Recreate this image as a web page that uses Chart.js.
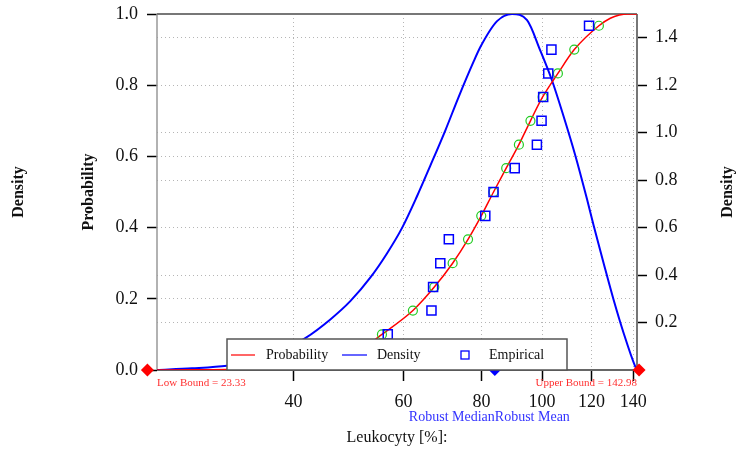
<!DOCTYPE html>
<html>
<head>
<meta charset="utf-8">
<script src="https://cdn.jsdelivr.net/npm/chart.js@4"></script>
<style>
  html, body { margin: 0; padding: 0; background: #fff; }
</style>
</head>
<body>
<canvas id="chart" width="750" height="457"></canvas>
<script>
// axis ticks
const xTicks = [40, 60, 80, 100, 120, 140];
const probTicks = [0, 0.2, 0.4, 0.6, 0.8, 1.0];
const densTicks = [0.2, 0.4, 0.6, 0.8, 1.0, 1.2, 1.4];
const xRange = [24.17, 141.9];

// fitted probability (cdf) curve
const probX = [24.17, 28, 32, 36, 40, 44, 48, 52, 55.4, 62.1, 67.2, 71.9, 76.1, 79.9, 83.6, 87.6, 91.8, 95.8, 100.2, 106.0, 112.6, 123.3, 128.6, 133, 137, 141.9];
const probY = [0, 0.0005, 0.002, 0.006, 0.013, 0.025, 0.042, 0.066, 0.1, 0.167, 0.233, 0.3, 0.367, 0.433, 0.5, 0.567, 0.633, 0.7, 0.767, 0.833, 0.9, 0.967, 0.988, 0.997, 1.0, 1.0];

// density curve (right axis)
const densX = [24.17, 27.5, 31.3, 36, 41.7, 45.8, 49.3, 53.1, 56.4, 59.7, 63.0, 66.2, 70.0, 73.5, 77.7, 79.6, 84.7, 89.5, 94.6, 99.3, 103.7, 108.3, 113.0, 118.0, 120.9, 125.5, 130.2, 135.1, 141.0, 141.9];
const densY = [0, 0.007, 0.018, 0.045, 0.133, 0.213, 0.29, 0.39, 0.49, 0.60, 0.73, 0.86, 1.01, 1.15, 1.30, 1.36, 1.47, 1.5, 1.474, 1.347, 1.221, 1.067, 0.905, 0.72, 0.61, 0.449, 0.295, 0.155, 0.014, 0];

// plotting positions, theoretical and empirical quantiles
const pLevels = [0.033, 0.1, 0.167, 0.233, 0.3, 0.367, 0.433, 0.5, 0.567, 0.633, 0.7, 0.767, 0.833, 0.9, 0.967];
const theoX = [45.9, 55.4, 62.1, 67.2, 71.9, 76.1, 79.9, 83.6, 87.6, 91.8, 95.8, 100.2, 106.0, 112.6, 123.3];
const empX = [50.5, 56.6, 66.5, 66.9, 68.7, 70.9, 81.1, 83.6, 90.4, 98.1, 99.8, 100.4, 102.3, 103.5, 118.9];

const bounds = [23.33, 142.98];
const robustMedian = 84;
const legendLabels = ['Probability', 'Density', 'Empirical'];
const xTitle = 'Leukocyty [%]:';

const serif = "'Liberation Serif', 'Times New Roman', serif";
Chart.defaults.font.family = serif;
Chart.defaults.color = '#111';

const gridBase = { color: '#b5b5b5', lineWidth: 1, tickColor: '#000', tickWidth: 1.5, tickBorderDash: [] };
const borderBase = { display: false, dash: [1, 3] };

function line(ctx, x1, y1, x2, y2, color, w) {
  ctx.strokeStyle = color;
  ctx.lineWidth = w;
  ctx.beginPath();
  ctx.moveTo(x1, y1);
  ctx.lineTo(x2, y2);
  ctx.stroke();
}

// keep the plot box where the original has it
function noPad(s) {
  s.paddingTop = 0;
  s.paddingBottom = 0;
  s.paddingLeft = 0;
  s.paddingRight = 0;
}

const decor = {
  id: 'decor',
  beforeDatasetsDraw(chart) {
    const { ctx, chartArea: a } = chart;
    ctx.save();
    line(ctx, a.left, a.top, a.left, a.bottom, '#999', 1.5);
    line(ctx, a.left, a.top, a.right, a.top, '#777', 2);
    line(ctx, a.right, a.top, a.right, a.bottom, '#777', 2);
    line(ctx, a.left, a.bottom, a.right, a.bottom, '#666', 2);
    ctx.restore();
  },
  afterDatasetsDraw(chart) {
    const { ctx } = chart;
    ctx.save();
    // legend box
    ctx.fillStyle = '#fff';
    ctx.fillRect(227, 339, 340, 31);
    ctx.strokeStyle = '#555';
    ctx.lineWidth = 1.5;
    ctx.strokeRect(227, 339, 340, 31);
    const ly = 355;
    line(ctx, 231, ly, 255, ly, 'rgba(255,0,0,0.6)', 2);
    line(ctx, 342, ly, 367, ly, 'rgba(0,0,255,0.6)', 2);
    ctx.strokeStyle = '#0000ff';
    ctx.lineWidth = 1.3;
    ctx.strokeRect(461, 351, 8, 8);
    ctx.fillStyle = '#111';
    ctx.font = '14px ' + serif;
    ctx.textBaseline = 'middle';
    ctx.textAlign = 'left';
    ctx.fillText(legendLabels[0], 266, ly);
    ctx.fillText(legendLabels[1], 377, ly);
    ctx.fillText(legendLabels[2], 489, ly);
    ctx.restore();
  },
  afterDraw(chart) {
    const { ctx, chartArea: a, scales } = chart;
    ctx.save();
    ctx.textBaseline = 'middle';
    // bound labels
    ctx.fillStyle = '#ff3030';
    ctx.font = '11px ' + serif;
    ctx.textAlign = 'left';
    ctx.fillText('Low Bound = ' + bounds[0].toFixed(2), a.left, 383);
    ctx.textAlign = 'right';
    ctx.fillText('Upper Bound = ' + bounds[1].toFixed(2), a.right, 383);
    // robust labels
    const mx = scales.x.getPixelForValue(robustMedian);
    ctx.fillStyle = '#3333ff';
    ctx.font = '14px ' + serif;
    ctx.textAlign = 'right';
    ctx.fillText('Robust Median', mx, 417);
    ctx.textAlign = 'left';
    ctx.fillText('Robust Mean', mx, 417);
    // x title
    ctx.fillStyle = '#111';
    ctx.font = '16px ' + serif;
    ctx.textAlign = 'center';
    ctx.fillText(xTitle, (a.left + a.right) / 2, 438);
    // y titles
    ctx.font = 'bold 16px ' + serif;
    const cy = (a.top + a.bottom) / 2;
    [[19, 'Density'], [88.5, 'Probability'], [728, 'Density']].forEach(t => {
      ctx.save();
      ctx.translate(t[0], cy);
      ctx.rotate(-Math.PI / 2);
      ctx.fillText(t[1], 0, 0);
      ctx.restore();
    });
    ctx.restore();
  }
};

const pts = (xs, ys) => xs.map((x, i) => ({ x: x, y: ys[i] }));

new Chart(document.getElementById('chart'), {
  type: 'line',
  data: {
    datasets: [
      {
        label: 'Bounds',
        data: bounds.map(x => ({ x: x, y: 0 })),
        yAxisID: 'y',
        showLine: false,
        pointStyle: 'rectRot',
        pointRadius: 6.5,
        pointHoverRadius: 14,
        pointBorderWidth: 0,
        backgroundColor: '#ff0000',
        borderColor: '#ff0000',
        clip: false,
        order: 0
      },
      {
        label: 'Empirical',
        data: pts(empX, pLevels),
        yAxisID: 'y',
        showLine: false,
        pointStyle: 'rect',
        pointRadius: 6.4,
        pointBorderWidth: 1.5,
        borderColor: '#0000ff',
        backgroundColor: 'rgba(0,0,0,0)',
        order: 1
      },
      {
        label: 'Theoretical',
        data: pts(theoX, pLevels),
        yAxisID: 'y',
        showLine: false,
        pointStyle: 'circle',
        pointRadius: 4.5,
        pointBorderWidth: 1.2,
        borderColor: '#22cc22',
        backgroundColor: 'rgba(0,0,0,0)',
        order: 2
      },
      {
        label: 'Probability',
        data: pts(probX, probY),
        yAxisID: 'y',
        borderColor: '#ff0000',
        borderWidth: 1.5,
        pointRadius: 0,
        cubicInterpolationMode: 'monotone',
        fill: false,
        order: 3
      },
      {
        label: 'Density',
        data: pts(densX, densY),
        yAxisID: 'y2',
        borderColor: '#0000ff',
        borderWidth: 2,
        pointRadius: 0,
        cubicInterpolationMode: 'monotone',
        fill: false,
        order: 4
      },
      {
        label: 'Robust Median',
        data: [{ x: robustMedian, y: 0 }],
        yAxisID: 'y',
        showLine: false,
        pointStyle: 'rectRot',
        pointRadius: 6,
        pointHoverRadius: 14,
        pointBorderWidth: 0,
        backgroundColor: '#0000ff',
        borderColor: '#0000ff',
        clip: false,
        order: 5
      }
    ]
  },
  options: {
    responsive: false,
    animation: false,
    events: [],
    layout: { padding: { top: 13, left: 0, right: 0, bottom: 0 } },
    plugins: { legend: { display: false }, tooltip: { enabled: false } },
    scales: {
      x: {
        type: 'logarithmic',
        min: xRange[0],
        max: xRange[1],
        afterBuildTicks: s => { s.ticks = xTicks.map(v => ({ value: v })); },
        afterFit: s => { s.height = 87; noPad(s); },
        grid: Object.assign({}, gridBase, { tickLength: 11 }),
        border: borderBase,
        ticks: { autoSkip: false, maxRotation: 0, padding: 10, font: { size: 18 }, color: '#111', callback: v => String(v) }
      },
      y: {
        position: 'left',
        min: 0,
        max: 1,
        afterBuildTicks: s => { s.ticks = probTicks.map(v => ({ value: v })); },
        afterFit: s => { s.width = 157; noPad(s); },
        grid: Object.assign({}, gridBase, { tickLength: 10 }),
        border: borderBase,
        ticks: { padding: 9, font: { size: 18 }, color: '#111', callback: v => v.toFixed(1) }
      },
      y2: {
        position: 'right',
        min: 0,
        max: 1.5,
        afterBuildTicks: s => { s.ticks = densTicks.map(v => ({ value: v })); },
        afterFit: s => { s.width = 113; noPad(s); },
        grid: Object.assign({}, gridBase, { tickLength: 10 }),
        border: borderBase,
        ticks: { padding: 8, font: { size: 18 }, color: '#111', callback: v => v.toFixed(1) }
      }
    }
  },
  plugins: [decor]
});
</script>
</body>
</html>
